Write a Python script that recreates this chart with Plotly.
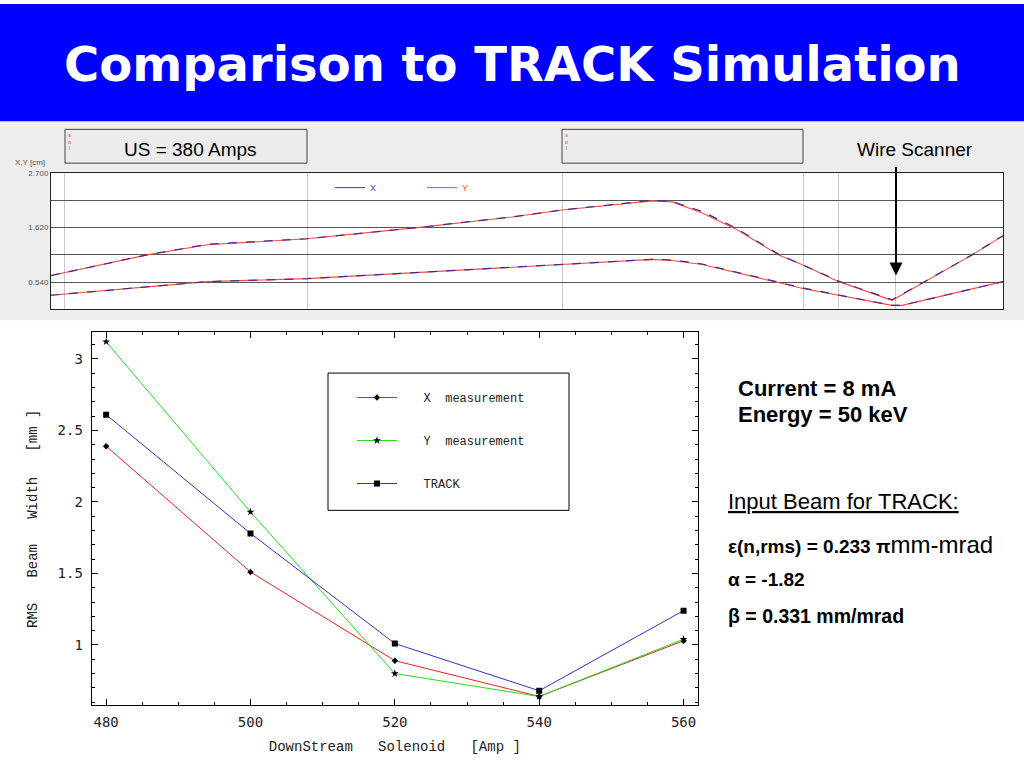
import plotly.graph_objects as go

# ---------------- data ----------------
# lower chart: RMS beam width vs downstream solenoid current
solenoid_amp = [480, 500, 520, 540, 560]
x_meas = [2.39, 1.51, 0.89, 0.64, 1.03]
y_meas = [3.12, 1.93, 0.80, 0.64, 1.04]
track = [2.61, 1.78, 1.01, 0.68, 1.24]

# upper panel: TRACK envelope along the beamline (arbitrary position units)
z_outer = [0, 20.2, 32.8, 53.8, 76.9, 96.8, 107.4, 126.3, 130.5, 136.8, 143.7,
           152.9, 158.2, 165.5, 176.7, 193.5, 200]
y_outer = [0.67, 1.08, 1.28, 1.40, 1.62, 1.83, 1.97, 2.15, 2.13, 1.91, 1.60,
           1.08, 0.87, 0.55, 0.18, 1.08, 1.46]
x_outer = [0.67, 1.08, 1.29, 1.40, 1.62, 1.83, 1.97, 2.16, 2.14, 1.94, 1.62,
           1.09, 0.87, 0.56, 0.19, 1.08, 1.46]
z_inner = [0, 32.8, 53.8, 96.8, 107.4, 126.3, 130.5, 136.8, 158.2, 165.5,
           176.7, 178.8, 200]
y_inner = [0.28, 0.55, 0.61, 0.83, 0.89, 0.99, 0.97, 0.89, 0.41, 0.28, 0.08,
           0.08, 0.55]
x_inner = [0.28, 0.55, 0.61, 0.83, 0.89, 0.99, 0.98, 0.90, 0.42, 0.28, 0.08,
           0.08, 0.55]
element_positions = [2.9, 53.8, 107.4, 158.0, 165.5, 177.5]
env_tickvals = [0.54, 1.08, 1.62, 2.16, 2.70]
env_ticktext = ["0.540", "", "1.620", "", "2.700"]

W, H = 1024, 768


def X(px):
    return px / W


def Y(py):
    return 1 - py / H


NB = "\u00a0"
X_COLOR = "#3A3AD0"
Y_COLOR = "#FF4040"

fig = go.Figure()

# ---- upper envelope panel ----
# legend entries (solid lines as in the original key)
fig.add_trace(go.Scatter(x=[None], y=[None], mode="lines",
                         name="<span style='color:%s'>X</span>" % X_COLOR,
                         line=dict(color=X_COLOR, width=1),
                         xaxis="x2", yaxis="y2", legend="legend2",
                         legendgroup="X", legendrank=1))
fig.add_trace(go.Scatter(x=[None], y=[None], mode="lines",
                         name="<span style='color:%s'>Y</span>" % Y_COLOR,
                         line=dict(color=Y_COLOR, width=1),
                         xaxis="x2", yaxis="y2", legend="legend2",
                         legendgroup="Y", legendrank=2))
for zz, yy in ((z_outer, y_outer), (z_inner, y_inner)):
    fig.add_trace(go.Scatter(x=zz, y=yy, mode="lines", showlegend=False,
                             line=dict(color="#FF4848", width=1.1),
                             xaxis="x2", yaxis="y2", legendgroup="Y"))
for zz, xx in ((z_outer, x_outer), (z_inner, x_inner)):
    fig.add_trace(go.Scatter(x=zz, y=xx, mode="lines", showlegend=False,
                             line=dict(color="#4A2890", width=1.2, dash="dash"),
                             xaxis="x2", yaxis="y2", legendgroup="X"))

# ---- lower comparison chart ----
fig.add_trace(go.Scatter(x=solenoid_amp, y=x_meas, mode="lines+markers",
                         name=NB * 3 + "X" + NB * 2 + "measurement", legendgroup="a",
                         line=dict(color="#EE2020", width=1),
                         marker=dict(symbol="diamond", size=5, color="black")))
fig.add_trace(go.Scatter(x=solenoid_amp, y=y_meas, mode="lines+markers",
                         name=NB * 3 + "Y" + NB * 2 + "measurement", legendgroup="b",
                         line=dict(color="#20DD20", width=1),
                         marker=dict(symbol="star", size=6, color="black")))
fig.add_trace(go.Scatter(x=solenoid_amp, y=track, mode="lines+markers",
                         name=NB * 3 + "TRACK", legendgroup="c",
                         line=dict(color="#3030D0", width=1),
                         marker=dict(symbol="square", size=6, color="black")))

shapes = [
    dict(type="rect", xref="paper", yref="paper", x0=0, x1=1, y0=Y(118), y1=1,
         fillcolor="#0000FF", line=dict(width=0), layer="below"),
    dict(type="rect", xref="paper", yref="paper", x0=0, x1=1, y0=Y(318), y1=Y(118),
         fillcolor="#EDEDED", line=dict(width=0), layer="below"),
    dict(type="rect", xref="paper", yref="paper", x0=X(51), x1=X(1003),
         y0=Y(307), y1=Y(170), fillcolor="white", line=dict(width=0), layer="below"),
    dict(type="rect", xref="paper", yref="paper", x0=X(65), x1=X(307),
         y0=Y(160), y1=Y(126), fillcolor="#ECECEC",
         line=dict(color="#444444", width=1), layer="below"),
    dict(type="rect", xref="paper", yref="paper", x0=X(562), x1=X(803),
         y0=Y(160), y1=Y(126), fillcolor="#ECECEC",
         line=dict(color="#444444", width=1), layer="below"),
    dict(type="rect", xref="paper", yref="paper", x0=X(328), x1=X(569),
         y0=Y(509), y1=Y(371), fillcolor="white",
         line=dict(color="black", width=1), layer="below"),
]

sans = "Liberation Sans, Arial, sans-serif"


def ann(text, x, y, size, color="black", xa="left", ya="middle", family=sans, **kw):
    d = dict(text=text, x=X(x), y=Y(y), xref="paper", yref="paper",
             xanchor=xa, yanchor=ya, showarrow=False,
             font=dict(family=family, size=size, color=color))
    d.update(kw)
    return d


annotations = [
    ann("<b>Comparison to TRACK Simulation</b>", 512, 60, 48, "white",
        xa="center", family="DejaVu Sans, sans-serif"),
    ann("US = 380 Amps", 190, 146, 19, xa="center"),
    ann("s<br>o<br>l", 66, 127, 5, "#E03030", ya="top"),
    ann("s<br>o<br>l", 563, 127, 5, "#E03030", ya="top"),
    ann("Wire Scanner", 915, 146, 19, xa="center"),
    dict(text="", x=X(896), y=Y(273), xref="paper", yref="paper",
         showarrow=True, ax=0, ay=-110, arrowhead=2, arrowsize=1.3,
         arrowwidth=2, arrowcolor="black"),
    ann("X,Y [cm]", 30, 166, 8, "#555555", xa="center", ya="bottom"),
    ann("<b>Current = 8 mA</b>", 736, 387, 22),
    ann("<b>Energy = 50 keV</b>", 736, 413, 22),
    ann("<u>Input Beam for TRACK:</u>", 726, 500, 22),
    ann("<b>ε(n,rms) = 0.233 π</b><span style='font-size:24px'>mm-mrad</span>",
        726, 543, 19),
    ann("<b>α = -1.82</b>", 726, 579, 19),
    ann("<b>β = 0.331 mm/mrad</b>", 726, 615, 19.5),
]

mono = "Liberation Mono, Courier New, monospace"
tickmono = "DejaVu Sans Mono, monospace"

fig.update_layout(
    width=W, height=H,
    margin=dict(l=0, r=0, t=0, b=0),
    paper_bgcolor="white",
    plot_bgcolor="rgba(0,0,0,0)",
    shapes=shapes,
    annotations=annotations,
    showlegend=True,
    legend=dict(x=X(352), y=Y(381), xanchor="left", yanchor="top",
                bgcolor="rgba(0,0,0,0)", borderwidth=0,
                tracegroupgap=24, itemwidth=40,
                font=dict(family=mono, size=12, color="#222222")),
    legend2=dict(x=X(330), y=Y(170), xanchor="left", yanchor="top",
                 orientation="h", bgcolor="rgba(0,0,0,0)",
                 entrywidth=47, entrywidthmode="pixels",
                 font=dict(family=sans, size=9, color=X_COLOR)),
    xaxis=dict(domain=[X(91.7), X(698)], range=[478, 562],
               tick0=480, dtick=20, ticks="inside", ticklen=6,
               tickcolor="black", mirror="allticks", showline=True,
               linecolor="black", linewidth=1, showgrid=False, zeroline=False,
               minor=dict(dtick=5, tick0=480, ticks="inside", ticklen=3,
                          tickcolor="black"),
               tickfont=dict(family=tickmono, size=14, color="#222222"),
               ticklabelstandoff=4,
               title=dict(text="DownStream" + NB * 3 + "Solenoid" + NB * 3 + "[Amp" + NB + "]",
                          font=dict(family=mono, size=14, color="#222222"),
                          standoff=12),
               anchor="y"),
    yaxis=dict(domain=[Y(705), Y(330)], range=[0.578, 3.186],
               tick0=0, dtick=0.5, ticks="inside", ticklen=6,
               tickcolor="black", mirror="allticks", showline=True,
               linecolor="black", linewidth=1, showgrid=False, zeroline=False,
               minor=dict(dtick=0.1, tick0=0, ticks="inside", ticklen=3,
                          tickcolor="black"),
               tickfont=dict(family=tickmono, size=14, color="#222222"),
               ticklabelstandoff=5,
               title=dict(text="RMS" + NB * 3 + "Beam" + NB * 3 + "Width" + NB * 3 + "[mm" + NB + "]",
                          font=dict(family=mono, size=14, color="#222222"),
                          standoff=16),
               anchor="x"),
    xaxis2=dict(domain=[X(51), X(1003)], range=[0, 200],
                tickvals=element_positions, showticklabels=False, ticks="",
                showgrid=True, gridcolor="#C8C8C8", gridwidth=1,
                showline=True, mirror=True, linecolor="#222222", linewidth=1,
                zeroline=False, anchor="y2"),
    yaxis2=dict(domain=[Y(307), Y(170)], range=[0, 2.7],
                tickvals=env_tickvals, ticktext=env_ticktext, ticks="",
                showgrid=True, gridcolor="#555555", gridwidth=1,
                showline=True, mirror=True, linecolor="#222222", linewidth=1,
                zeroline=False,
                tickfont=dict(family=sans, size=8, color="#555555"),
                anchor="x2"),
)

fig.write_html("out.html",
               config={"displayModeBar": False},
               post_script="document.body.style.margin='0';"
                           "document.body.style.overflow='hidden';")
